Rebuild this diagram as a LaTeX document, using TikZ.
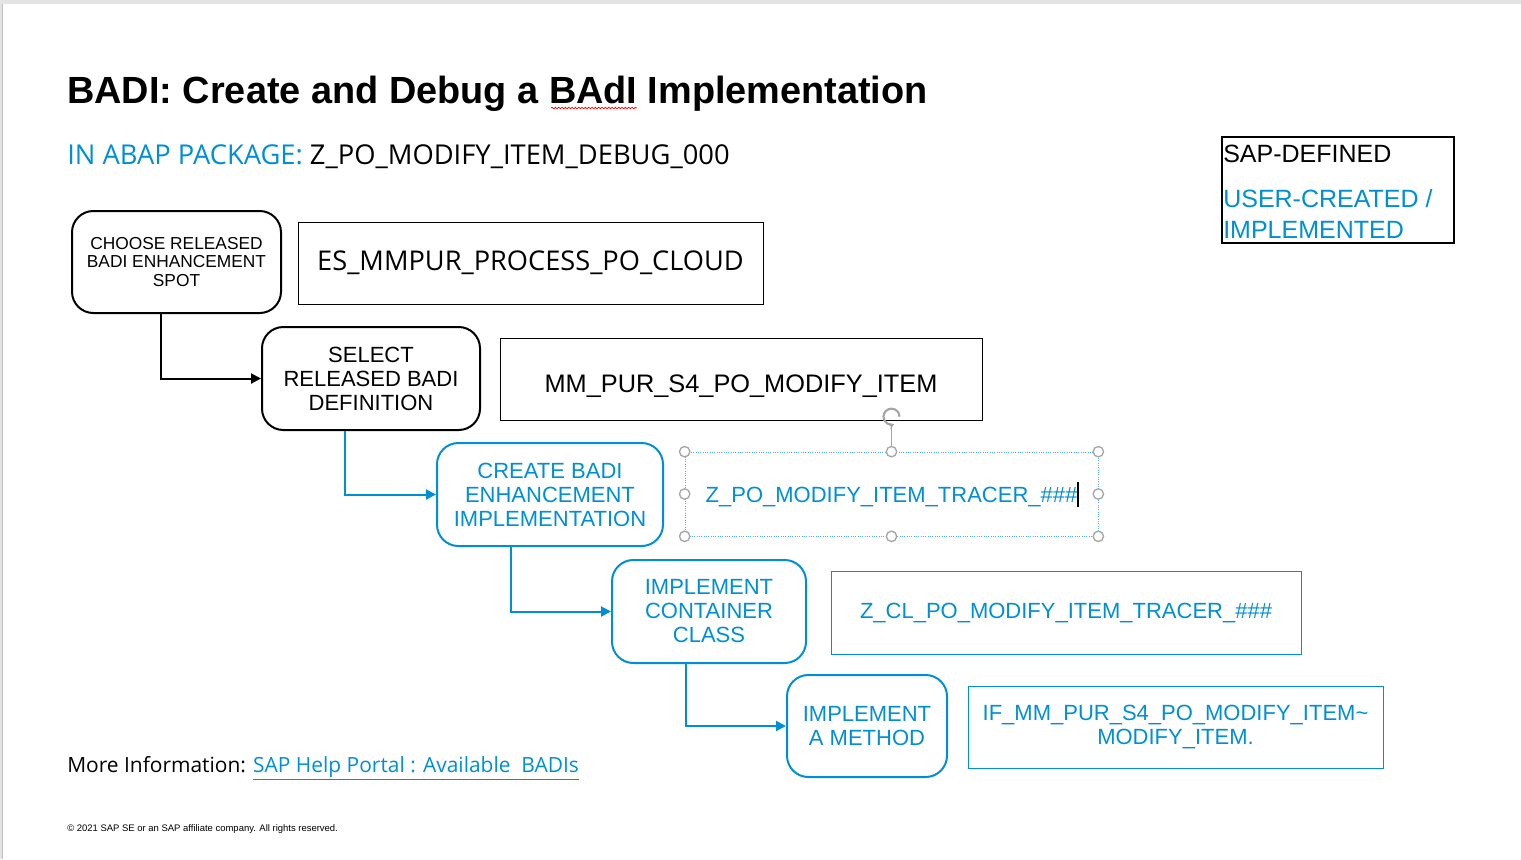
\documentclass[tikz,border=0pt]{standalone}
\usepackage{fontspec}
\setmainfont{Liberation Sans}
\newfontfamily\segoe{Open Sans}
\usetikzlibrary{arrows.meta,decorations.pathmorphing}
\definecolor{sapblue}{RGB}{0,143,211}
\def\u{0.75pt}
\begin{document}
\begin{tikzpicture}[x=0.75pt,y=-0.75pt,inner sep=0pt,
stepbox/.style={draw,rounded corners=16pt,line width=1.5pt,align=center,font=\fontsize{16.5}{18}\selectfont},
userstep/.style={stepbox,draw=sapblue,text=sapblue},
objbox/.style={draw,line width=0.75pt,align=center,font=\fontsize{16.5}{18}\selectfont},
userobj/.style={objbox,draw=sapblue,text=sapblue},
flow/.style={line width=1.5pt,-{Triangle[length=7.5pt,width=7.5pt]}},
handle/.style={draw=gray!70,fill=white,line width=1pt}]
\fill[gray!22](0,0)rectangle(1521,859);
\fill[white](3,4)rectangle(1521,859);
\draw[gray!50,line width=0.75pt](2.5,4)--(2.5,859);
\node[anchor=base west,font=\bfseries\fontsize{28.4}{30}\selectfont](title)at(67,103){BADI: Create and Debug a BAdI Implementation};
\draw[red,line width=0.5pt,decorate,decoration={snake,amplitude=0.6pt,segment length=2.5pt}](551,108)--(637,108);
\node[anchor=base west,font=\segoe\fontsize{20.5}{24}\selectfont](pkg)at(67,164){\textcolor{sapblue}{IN ABAP PACKAGE:} Z\_PO\_MODIFY\_ITEM\_DEBUG\_000};
\draw[line width=1.5pt](1222,137)rectangle(1454,243);
\node[anchor=base west,font=\fontsize{18.75}{23}\selectfont](sapdef)at(1223,162){SAP-DEFINED};
\node[anchor=base west,font=\fontsize{18.75}{23}\selectfont,text=sapblue](userdef)at(1223,207){USER-CREATED /};
\node[anchor=base west,font=\fontsize{18.75}{23}\selectfont,text=sapblue](impl)at(1223,238){IMPLEMENTED};
\node[stepbox,font=\fontsize{13}{13.9}\selectfont,minimum width=209*\u,minimum height=102*\u](choose)at(176.5,262){CHOOSE RELEASED\\BADI ENHANCEMENT\\SPOT};
\node[objbox,font=\segoe\fontsize{20.4}{22}\selectfont,minimum width=465*\u,minimum height=82*\u](es)at(530.5,263){ES\_MMPUR\_PROCESS\_PO\_CLOUD};
\node[stepbox,minimum width=218*\u,minimum height=103*\u](select)at(371,378.5){SELECT\\RELEASED BADI\\DEFINITION};
\node[objbox,font=\fontsize{19}{22}\selectfont,text height=23.6pt,text depth=4pt,minimum width=482*\u,minimum height=82*\u](mm)at(741,379){MM\_PUR\_S4\_PO\_MODIFY\_ITEM};
\node[userstep,minimum width=226*\u,minimum height=103*\u](create)at(550,494.5){CREATE BADI\\ENHANCEMENT\\IMPLEMENTATION};
\node[userobj,draw=sapblue!70,densely dotted,line width=0.5pt,text height=16pt,text depth=4pt,minimum width=413*\u,minimum height=84*\u](tracer)at(891.5,494){Z\_PO\_MODIFY\_ITEM\_TRACER\_\#\#\#};
\node[userstep,minimum width=194*\u,minimum height=103*\u](container)at(709,611.5){IMPLEMENT\\CONTAINER\\CLASS};
\node[userobj,minimum width=470*\u,minimum height=83*\u](zcl)at(1066,612.5){Z\_CL\_PO\_MODIFY\_ITEM\_TRACER\_\#\#\#};
\node[userstep,minimum width=160*\u,minimum height=102*\u](method)at(867,726){IMPLEMENT\\A METHOD};
\node[userobj,minimum width=415*\u,minimum height=82*\u](ifm)at(1175.5,727){IF\_MM\_PUR\_S4\_PO\_MODIFY\_ITEM\textasciitilde\\MODIFY\_ITEM.};
\draw[flow]([xshift=-15.5*\u]choose.south)|-(select.west);
\draw[flow,sapblue]([xshift=-26*\u]select.south)|-(create.west);
\draw[flow,sapblue]([xshift=-39*\u]create.south)|-(container.west);
\draw[flow,sapblue]([xshift=-23*\u]container.south)|-(method.west);
\coordinate(rot)at([yshift=35*\u]tracer.north);
\draw[gray!70,line width=1pt](tracer.north)--([yshift=-8*\u]rot);
\draw[gray!70,line width=1.6pt,-{Stealth[length=4pt,width=5pt]}]([xshift=8*\u]rot)arc[start angle=0,end angle=290,radius=8*\u];
\foreach \p in {north west,north,north east,east,south east,south,south west,west}
\draw[handle](tracer.\p)circle[radius=3.9pt];
\draw[line width=0.8pt](1078,482)--(1078,507);
\node[anchor=base west,font=\segoe\fontsize{15.7}{19}\selectfont](info)at(67,772){More Information: \textcolor{sapblue}{\underline{SAP Help Portal : Available\ \ BADIs}}};
\node[anchor=base west,font=\fontsize{7.1}{8}\selectfont](copy)at(67,831){© 2021 SAP SE or an SAP affiliate company. All rights reserved.};
\end{tikzpicture}
\end{document}
